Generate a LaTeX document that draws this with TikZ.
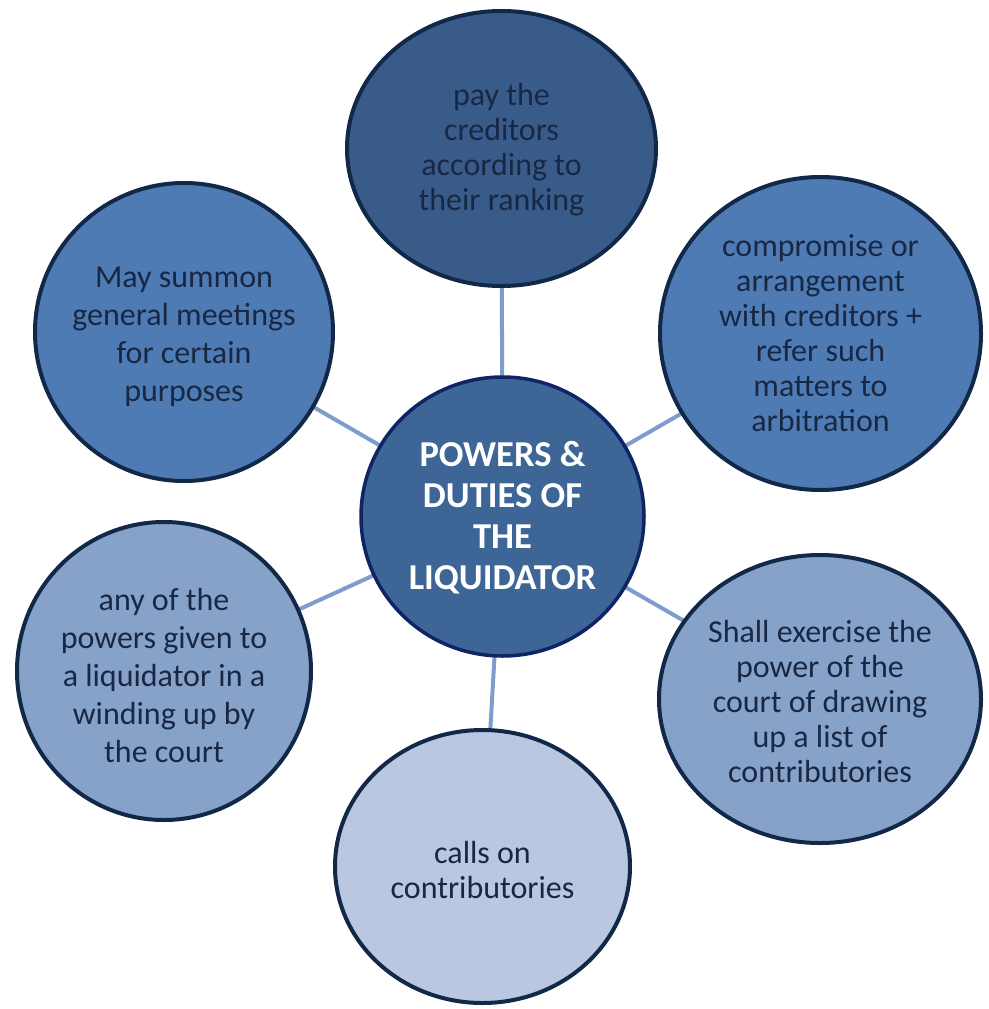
\documentclass[tikz,border=0pt]{standalone}
\usepackage{fontspec}
\setmainfont{Carlito}
\usetikzlibrary{shapes.geometric,backgrounds}
\definecolor{cTop}{RGB}{57,91,138}
\definecolor{cMid}{RGB}{79,123,180}
\definecolor{cLow}{RGB}{135,162,201}
\definecolor{cBot}{RGB}{185,199,224}
\definecolor{cCen}{RGB}{61,101,150}
\definecolor{cEdge}{RGB}{18,40,72}
\definecolor{cCenEdge}{RGB}{14,36,100}
\definecolor{cLink}{RGB}{126,157,204}
\definecolor{cText}{RGB}{24,40,68}
\tikzset{
  bubble/.style={ellipse, draw=cEdge, line width=4pt, inner sep=0pt, outer sep=0pt},
  btext/.style={align=center, text=cText, font=\fontsize{32pt}{35pt}\selectfont, inner sep=0pt},
  btextwide/.style={btext, font=\fontsize{32pt}{38pt}\selectfont},
  link/.style={draw=cLink, line width=4pt}
}
\begin{document}
\begin{tikzpicture}[x=1pt,y=-1pt]
\useasboundingbox (0,0) rectangle (988,1009);
\node[bubble, fill=cCen, draw=cCenEdge, line width=3.5pt, minimum width=283pt, minimum height=279pt] (c) at (502.5,516.5) {};
\node[bubble, fill=cTop, minimum width=309pt, minimum height=275pt] (t) at (501.5,148.5) {};
\node[bubble, fill=cMid, minimum width=321pt, minimum height=313pt] (tr) at (820.5,333.5) {};
\node[bubble, fill=cLow, minimum width=322pt, minimum height=288pt] (br) at (820,699) {};
\node[bubble, fill=cBot, minimum width=295pt, minimum height=273pt] (b) at (482.5,866.5) {};
\node[bubble, fill=cLow, minimum width=294pt, minimum height=298pt] (bl) at (164,671) {};
\node[bubble, fill=cMid, minimum width=298pt, minimum height=298pt] (tl) at (184,332) {};
\begin{scope}[on background layer]
\draw[link] (c) -- (t);
\draw[link] (c) -- (tr);
\draw[link] (c) -- (br);
\draw[link] (c) -- (b);
\draw[link] (c) -- (bl);
\draw[link] (c) -- (tl);
\end{scope}
\node[align=center, text=white, font=\fontsize{36.5pt}{41pt}\selectfont\bfseries, inner sep=0pt] (ct) at (502.5,518) {POWERS \&\\DUTIES OF\\THE\\LIQUIDATOR};
\node[btext] (tt) at (501.5,150) {pay the\\creditors\\according to\\their ranking};
\node[btext] (trt) at (820.5,333) {compromise or\\arrangement\\with creditors +\\refer such\\matters to\\arbitration};
\node[btext] (brt) at (820,701) {Shall exercise the\\power of the\\court of drawing\\up a list of\\contributories};
\node[btext] (bt) at (482.5,870) {calls on\\contributories};
\node[btextwide] (blt) at (164,675) {any of the\\powers given to\\a liquidator in a\\winding up by\\the court};
\node[btextwide] (tlt) at (184,337) {May summon\\general meetings\\for certain\\purposes};
\end{tikzpicture}
\end{document}
